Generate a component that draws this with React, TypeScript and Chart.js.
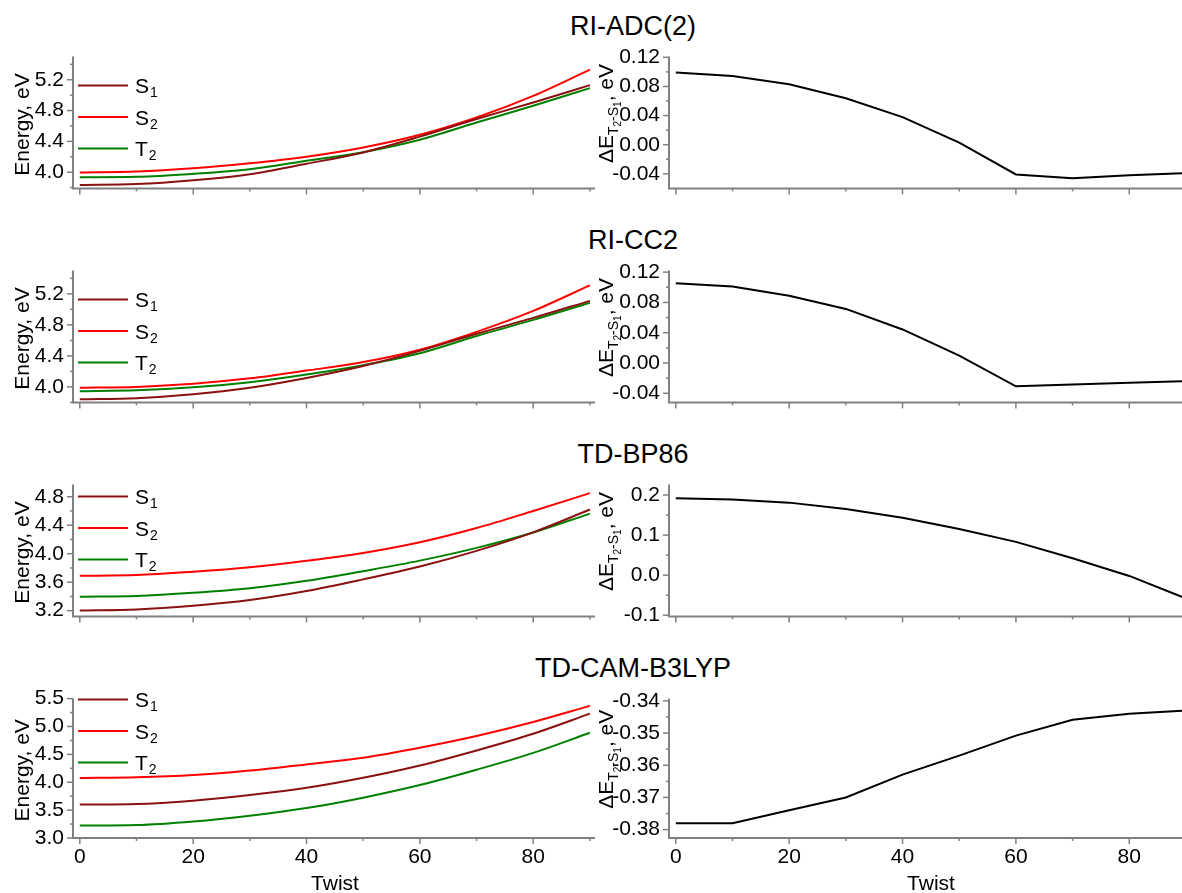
import React, { useEffect, useRef } from 'react';
import { Chart, registerables } from 'chart.js';
Chart.register(...registerables);

// ---------------- data ----------------
const twist = [0, 10, 20, 30, 40, 50, 60, 70, 80, 90];
const methods = ['RI-ADC(2)', 'RI-CC2', 'TD-BP86', 'TD-CAM-B3LYP'];

const adcS1 = [3.835, 3.846, 3.896, 3.975, 4.11, 4.257, 4.462, 4.69, 4.905, 5.13];
const adcS2 = [3.996, 4.008, 4.05, 4.115, 4.2, 4.32, 4.485, 4.71, 4.99, 5.33];
const adcT2 = [3.934, 3.94, 3.979, 4.039, 4.148, 4.26, 4.421, 4.644, 4.863, 5.091];
const adcDelta = [0.099, 0.0945, 0.083, 0.0638, 0.0379, 0.003, -0.0409, -0.046, -0.0421, -0.039];

const cc2S1 = [3.84, 3.855, 3.905, 3.99, 4.116, 4.27, 4.465, 4.685, 4.89, 5.11];
const cc2S2 = [3.99, 4.0, 4.04, 4.11, 4.21, 4.32, 4.48, 4.71, 4.98, 5.31];
const cc2T2 = [3.945, 3.956, 3.994, 4.061, 4.16, 4.28, 4.434, 4.657, 4.864, 5.086];
const cc2Delta = [0.1054, 0.101, 0.0888, 0.0714, 0.0443, 0.0098, -0.0307, -0.0285, -0.026, -0.024];

const bpS1 = [3.204, 3.218, 3.27, 3.35, 3.476, 3.64, 3.82, 4.04, 4.3, 4.62];
const bpS2 = [3.69, 3.7, 3.747, 3.81, 3.9, 4.01, 4.16, 4.36, 4.6, 4.85];
const bpT2 = [3.396, 3.407, 3.451, 3.515, 3.619, 3.755, 3.903, 4.082, 4.298, 4.562];
const bpDelta = [0.192, 0.189, 0.181, 0.165, 0.143, 0.115, 0.083, 0.042, -0.002, -0.058];

const camS1 = [3.6, 3.61, 3.67, 3.77, 3.9, 4.08, 4.3, 4.57, 4.87, 5.23];
const camS2 = [4.077, 4.09, 4.13, 4.21, 4.32, 4.44, 4.62, 4.83, 5.08, 5.37];
const camT2 = [3.222, 3.232, 3.296, 3.4, 3.537, 3.723, 3.949, 4.224, 4.526, 4.887];
const camDelta = [-0.378, -0.378, -0.374, -0.37, -0.3629, -0.357, -0.3508, -0.3459, -0.344, -0.343];

// tick values
const xMajor = [0, 20, 40, 60, 80];
const xMinor = [10, 30, 50, 70, 90];
const eMajorA = [4.0, 4.4, 4.8, 5.2];
const eMinorA = [3.8, 4.2, 4.6, 5.0, 5.4];
const eMajorB = [3.2, 3.6, 4.0, 4.4, 4.8];
const eMinorB = [3.4, 3.8, 4.2, 4.6];
const eMajorC = [3.0, 3.5, 4.0, 4.5, 5.0, 5.5];
const eMinorC = [3.25, 3.75, 4.25, 4.75, 5.25];
const dMajorA = [-0.04, 0.0, 0.04, 0.08, 0.12];
const dMinorA = [-0.02, 0.02, 0.06, 0.1];
const dMajorB = [-0.1, 0.0, 0.1, 0.2];
const dMinorB = [-0.05, 0.05, 0.15];
const dMajorC = [-0.38, -0.37, -0.36, -0.35, -0.34];
const dMinorC = [-0.375, -0.365, -0.355, -0.345];

// ---------------- style ----------------
const FONT = '"Liberation Sans", Arial, sans-serif';
const AXIS = '#808080';
const C_S1 = '#8b1010';
const C_S2 = '#ff0000';
const C_T2 = '#008000';
const TICK_SIZE = 21;

const rows = [
  { title: methods[0], s1: adcS1, s2: adcS2, t2: adcT2, d: adcDelta, eRange: [3.79, 5.5], eMaj: eMajorA, eMin: eMinorA, eDec: 1, dRange: [-0.06, 0.121], dMaj: dMajorA, dMin: dMinorA, dDec: 2, legendTop: 29 },
  { title: methods[1], s1: cc2S1, s2: cc2S2, t2: cc2T2, d: cc2Delta, eRange: [3.8, 5.5], eMaj: eMajorA, eMin: eMinorA, eDec: 1, dRange: [-0.052, 0.122], dMaj: dMajorA, dMin: dMinorA, dDec: 2, legendTop: 29 },
  { title: methods[2], s1: bpS1, s2: bpS2, t2: bpT2, d: bpDelta, eRange: [3.12, 4.97], eMaj: eMajorB, eMin: eMinorB, eDec: 1, dRange: [-0.103, 0.226], dMaj: dMajorB, dMin: dMinorB, dDec: 1, legendTop: 12 },
  { title: methods[3], s1: camS1, s2: camS2, t2: camT2, d: camDelta, eRange: [3.0, 5.5], eMaj: eMajorC, eMin: eMinorC, eDec: 1, dRange: [-0.3826, -0.3393], dMaj: dMajorC, dMin: dMinorC, dDec: 2, legendTop: 1 },
];

const PLOT_TOP0 = 55;
const ROW_STEP = 214;
const PLOT_H = 141;
const TOP_PAD = 20;

type Run = { t: string; size: number; dy: number };

function makeDeco(o: any) {
  return {
    id: 'deco',
    afterDraw(chart: any) {
      const { ctx, chartArea: a } = chart;
      const xs = chart.scales.x;
      const ys = chart.scales.y;
      ctx.save();
      // axis lines
      ctx.strokeStyle = AXIS;
      ctx.lineWidth = 2;
      ctx.beginPath();
      ctx.moveTo(a.left, a.top);
      ctx.lineTo(a.left, a.bottom + 1);
      ctx.moveTo(a.left - 1, a.bottom);
      ctx.lineTo(a.right, a.bottom);
      ctx.stroke();
      // tick marks
      ctx.lineWidth = 1.5;
      const xt = (vals: number[], len: number) => {
        vals.forEach((v) => {
          const p = xs.getPixelForValue(v);
          if (p < a.left - 0.5 || p > a.right + 0.5) return;
          ctx.beginPath();
          ctx.moveTo(p, a.bottom);
          ctx.lineTo(p, a.bottom + len);
          ctx.stroke();
        });
      };
      const yt = (vals: number[], len: number) => {
        vals.forEach((v) => {
          const p = ys.getPixelForValue(v);
          if (p < a.top - 0.5 || p > a.bottom + 0.5) return;
          ctx.beginPath();
          ctx.moveTo(a.left, p);
          ctx.lineTo(a.left - len, p);
          ctx.stroke();
        });
      };
      xt(o.xMaj, 6);
      xt(o.xMin, 3);
      yt(o.yMaj, 6);
      yt(o.yMin, 3);

      // y-axis title (rotated, with subscripts)
      ctx.fillStyle = '#000';
      ctx.save();
      ctx.translate(o.titleX, (a.top + a.bottom) / 2 + o.titleDy);
      ctx.rotate(-Math.PI / 2);
      ctx.textBaseline = 'alphabetic';
      ctx.textAlign = 'left';
      let total = 0;
      o.runs.forEach((r: Run) => {
        ctx.font = `${r.size}px ${FONT}`;
        total += ctx.measureText(r.t).width;
      });
      let cx = -total / 2;
      o.runs.forEach((r: Run) => {
        ctx.font = `${r.size}px ${FONT}`;
        ctx.fillText(r.t, cx, r.dy);
        cx += ctx.measureText(r.t).width;
      });
      ctx.restore();

      // legend
      if (o.legend) {
        const lx0 = a.left + 5;
        const lx1 = a.left + 55;
        o.legend.forEach((it: any, i: number) => {
          const y = a.top + o.legendTop + i * 31.5;
          ctx.strokeStyle = it.color;
          ctx.lineWidth = 2;
          ctx.beginPath();
          ctx.moveTo(lx0, y);
          ctx.lineTo(lx1, y);
          ctx.stroke();
          ctx.fillStyle = '#000';
          ctx.textAlign = 'left';
          ctx.textBaseline = 'alphabetic';
          ctx.font = `21px ${FONT}`;
          ctx.fillText(it.label, lx1 + 7, y + 7.5);
          const w = ctx.measureText(it.label).width;
          ctx.font = `14px ${FONT}`;
          ctx.fillText(it.sub, lx1 + 7 + w + 1, y + 11.5);
        });
      }

      // x title
      if (o.xTitle) {
        ctx.fillStyle = '#000';
        ctx.font = `21px ${FONT}`;
        ctx.textAlign = 'center';
        ctx.textBaseline = 'alphabetic';
        ctx.fillText(o.xTitle, a.left + 262, a.bottom + 52);
      }
      ctx.restore();
    },
  };
}

function Panel({ row, side }: { row: number; side: 'L' | 'R' }) {
  const ref = useRef<HTMLCanvasElement>(null);
  const cfg = rows[row];
  const last = row === rows.length - 1;
  const plotTop = PLOT_TOP0 + ROW_STEP * row;
  const bottomH = last ? 55 : 14;
  const left = side === 'L' ? 0 : 590;
  const width = side === 'L' ? 600 : 592;
  const top = plotTop - TOP_PAD;
  const height = TOP_PAD + PLOT_H + bottomH;

  useEffect(() => {
    const isL = side === 'L';
    const yMaj = isL ? cfg.eMaj : cfg.dMaj;
    const yMin = isL ? cfg.eMin : cfg.dMin;
    const yRange = isL ? cfg.eRange : cfg.dRange;
    const dec = isL ? cfg.eDec : cfg.dDec;
    const xMax = isL ? 90.9 : 89.3;

    const datasets = isL
      ? [
          { label: 'S1', data: twist.map((x, i) => ({ x, y: cfg.s1[i] })), borderColor: C_S1 },
          { label: 'S2', data: twist.map((x, i) => ({ x, y: cfg.s2[i] })), borderColor: C_S2 },
          { label: 'T2', data: twist.map((x, i) => ({ x, y: cfg.t2[i] })), borderColor: C_T2 },
        ].map((d) => ({ ...d, borderWidth: 2, pointRadius: 0, cubicInterpolationMode: 'monotone' as const, fill: false }))
      : [
          { label: 'dE', data: twist.map((x, i) => ({ x, y: cfg.d[i] })), borderColor: '#000', borderWidth: 2, pointRadius: 0, tension: 0, fill: false },
        ];

    const runs: Run[] = isL
      ? [{ t: 'Energy, eV', size: 21, dy: 0 }]
      : [
          { t: 'ΔE', size: 21, dy: 0 },
          { t: 'T', size: 14, dy: 5 },
          { t: '2', size: 10, dy: 8 },
          { t: '-S', size: 14, dy: 5 },
          { t: '1', size: 10, dy: 8 },
          { t: ', eV', size: 21, dy: 0 },
        ];

    const deco = makeDeco({
      xMaj: xMajor,
      xMin: xMinor,
      yMaj,
      yMin,
      runs,
      titleX: isL ? 29 : 23,
      titleDy: isL ? 2 : -9,
      legend: isL
        ? [
            { label: 'S', sub: '1', color: C_S1 },
            { label: 'S', sub: '2', color: C_S2 },
            { label: 'T', sub: '2', color: C_T2 },
          ]
        : null,
      legendTop: cfg.legendTop,
      xTitle: last ? 'Twist' : null,
    });

    const chart = new Chart(ref.current as HTMLCanvasElement, {
      type: 'line',
      data: { datasets },
      options: {
        responsive: false,
        maintainAspectRatio: false,
        animation: false,
        layout: { padding: { top: TOP_PAD, right: isL ? 5 : 0, left: 0, bottom: 0 } },
        plugins: { legend: { display: false }, tooltip: { enabled: false }, title: { display: false } },
        elements: { point: { radius: 0 } },
        scales: {
          x: {
            type: 'linear',
            min: -1.2,
            max: xMax,
            grid: { display: false, drawTicks: false },
            border: { display: false },
            ticks: {
              display: last,
              autoSkip: false,
              maxRotation: 0,
              padding: 7,
              color: '#000',
              font: { family: FONT, size: TICK_SIZE },
              callback: (v: any) => String(v),
            },
            afterBuildTicks: (s: any) => {
              s.ticks = xMajor.map((v) => ({ value: v }));
            },
            afterFit: (s: any) => {
              s.height = bottomH;
            },
          },
          y: {
            type: 'linear',
            min: yRange[0],
            max: yRange[1],
            grid: { display: false, drawTicks: false },
            border: { display: false },
            ticks: {
              autoSkip: false,
              padding: 9,
              color: '#000',
              font: { family: FONT, size: TICK_SIZE },
              callback: (v: any) => Number(v).toFixed(dec),
            },
            afterBuildTicks: (s: any) => {
              s.ticks = yMaj.map((v) => ({ value: v }));
            },
            afterFit: (s: any) => {
              s.width = isL ? 73 : 79;
            },
          },
        },
      },
      plugins: [deco],
    } as any);
    return () => chart.destroy();
  }, []);

  return (
    <canvas
      ref={ref}
      width={width}
      height={height}
      style={{ position: 'absolute', left, top, width, height, display: 'block' }}
    />
  );
}

export default function App() {
  return (
    <div
      style={{
        position: 'absolute',
        left: 0,
        top: 0,
        width: 1182,
        height: 893,
        overflow: 'hidden',
        background: '#fff',
        fontFamily: FONT,
      }}
    >
      {rows.map((r, i) => (
        <div
          key={'t' + i}
          style={{
            position: 'absolute',
            left: 333,
            width: 600,
            top: PLOT_TOP0 + ROW_STEP * i - 19 - 23,
            fontSize: 27,
            lineHeight: '27px',
            textAlign: 'center',
            color: '#000',
            whiteSpace: 'nowrap',
          }}
        >
          {r.title}
        </div>
      ))}
      {rows.map((r, i) => (
        <React.Fragment key={'p' + i}>
          <Panel row={i} side="L" />
          <Panel row={i} side="R" />
        </React.Fragment>
      ))}
    </div>
  );
}
